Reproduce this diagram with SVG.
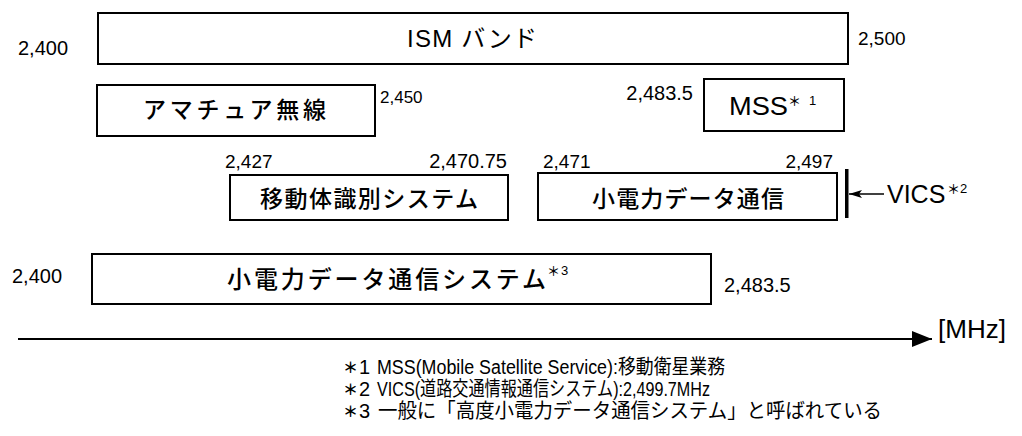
<svg xmlns="http://www.w3.org/2000/svg" width="1022" height="436" viewBox="0 0 1022 436">
<defs>
<style>
.box{fill:#fff;stroke:#000;stroke-width:2}
.t{font-family:"Liberation Sans","Noto Sans CJK JP",sans-serif;fill:#000}
.num{font-size:19px}
.jp{font-family:"Noto Sans CJK JP","Liberation Sans",sans-serif;fill:#000;font-weight:500}
.sup{font-size:13px}
.fn{font-family:"Liberation Sans","Noto Sans CJK JP",sans-serif;fill:#000;font-size:20px}
.fnj{font-family:"Noto Sans CJK JP","Liberation Sans",sans-serif;fill:#000;font-size:20px}
.fa{font-family:"Noto Sans CJK JP",sans-serif;fill:#000;font-size:15px;font-weight:bold}
.ln{stroke:#000;fill:none}
</style>
<marker id="axisHead" markerUnits="userSpaceOnUse" markerWidth="22" markerHeight="18" refX="20" refY="9" orient="auto">
<path d="M0,1 L20,9 L0,17 Z" fill="#000"/>
</marker>
<marker id="smallHead" markerUnits="userSpaceOnUse" markerWidth="14" markerHeight="10" refX="13" refY="5" orient="auto">
<path d="M0,1 L13,5 L0,9 L3,5 Z" fill="#000"/>
</marker>
</defs>
<rect width="1022" height="436" fill="#fff"/>

<g id="ism-band">
<rect class="box" x="98" y="13" width="750" height="51"/>
<text class="t" x="407" y="47" font-size="24" textLength="130" lengthAdjust="spacing">ISM バンド</text>
<text class="t" x="18" y="55" font-size="20">2,400</text>
<text class="t" x="858" y="45" font-size="19">2,500</text>
</g>

<g id="amateur">
<rect class="box" x="97" y="85" width="278" height="51"/>
<text class="jp" x="143" y="118" font-size="23" textLength="183" lengthAdjust="spacing">アマチュア無線</text>
<text class="t" x="380" y="103" font-size="17">2,450</text>
</g>

<g id="mss">
<rect class="box" x="704" y="79" width="140" height="52"/>
<text class="t" x="729" y="115" font-size="25" textLength="59" lengthAdjust="spacingAndGlyphs">MSS</text>
<text class="jp sup" x="788" y="106">＊</text>
<text class="t sup" x="809" y="105">1</text>
<text class="t" x="693" y="100" font-size="20" text-anchor="end">2,483.5</text>
</g>

<g id="mobile-id">
<rect class="box" x="230" y="175" width="278" height="45"/>
<text class="jp" x="260" y="207" font-size="23" textLength="218" lengthAdjust="spacing">移動体識別システム</text>
<text class="t num" x="225" y="168">2,427</text>
<text class="t" x="507" y="168" font-size="20" text-anchor="end">2,470.75</text>
</g>

<g id="low-power">
<rect class="box" x="538" y="173" width="299" height="47"/>
<text class="jp" x="592" y="207" font-size="23" textLength="192" lengthAdjust="spacing">小電力データ通信</text>
<text class="t num" x="543" y="168">2,471</text>
<text class="t num" x="833" y="168" text-anchor="end">2,497</text>
</g>

<g id="vics">
<rect x="845" y="169" width="3.5" height="49" fill="#000"/>
<text class="t" x="887" y="203" font-size="25">VICS</text>
<text class="jp sup" x="947" y="194">＊</text>
<text class="t sup" x="960" y="193">2</text>
</g>

<g id="low-power-system">
<rect class="box" x="92" y="254" width="619" height="50"/>
<text class="jp" x="227" y="288" font-size="24" textLength="319" lengthAdjust="spacing">小電力データ通信システム</text>
<text class="jp sup" x="547" y="276">＊</text>
<text class="t sup" x="561" y="275">3</text>
<text class="t" x="12" y="283" font-size="20">2,400</text>
<text class="t" x="724" y="292" font-size="20">2,483.5</text>
</g>

<g id="connectors">
<line class="ln" x1="18" y1="339" x2="932" y2="339" stroke-width="2" marker-end="url(#axisHead)"/>
<line class="ln" x1="884" y1="194" x2="849" y2="194" stroke-width="1.5" marker-end="url(#smallHead)"/>
</g>

<g id="axis-unit">
<text class="t" x="938" y="338" font-size="26">[MHz]</text>
</g>

<g id="footnotes">
<text class="fa" x="343" y="373">＊</text>
<text class="fn" x="359" y="374">1</text>
<text class="fn" x="377" y="374" textLength="348" lengthAdjust="spacingAndGlyphs">MSS(Mobile Satellite Service):移動衛星業務</text>
<text class="fa" x="343" y="395">＊</text>
<text class="fn" x="359" y="396">2</text>
<text class="fn" x="377" y="396" textLength="333" lengthAdjust="spacingAndGlyphs">VICS(道路交通情報通信システム):2,499.7MHz</text>
<text class="fa" x="343" y="417">＊</text>
<text class="fn" x="359" y="418">3</text>
<text class="fnj" x="378" y="418" textLength="504" lengthAdjust="spacingAndGlyphs">一般に「高度小電力データ通信システム」と呼ばれている</text>
</g>
</svg>
